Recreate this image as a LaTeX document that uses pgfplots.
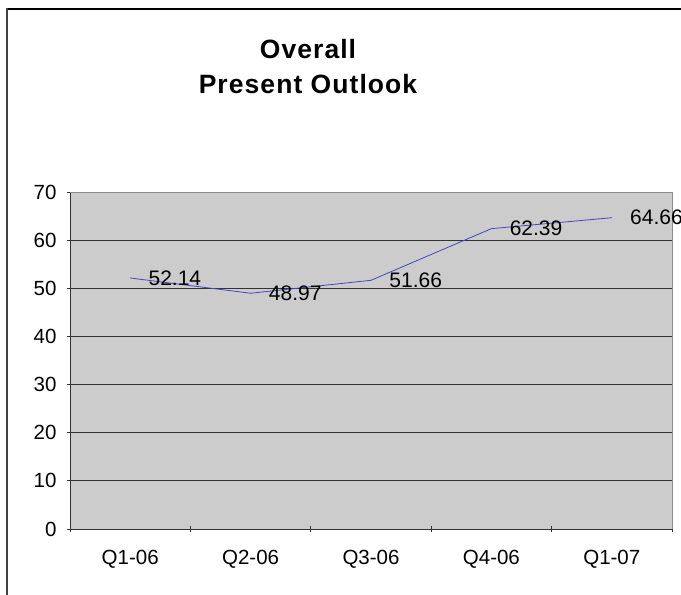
\documentclass[border=0pt]{standalone}
\usepackage{pgfplots}
\pgfplotsset{compat=1.18}
\usepackage{fontspec}
\setmainfont{Liberation Sans}
\definecolor{plotgray}{RGB}{204,204,204}
\definecolor{lineblue}{RGB}{70,70,190}
\begin{document}
\begin{tikzpicture}[x=1pt,y=1pt]
\path[use as bounding box] (0,0) rectangle (681,595);
\draw[black, line width=1.6pt] (7,586) -- (681,586);
\draw[black!75, line width=2pt] (7,0) -- (7,586.8);
\node[anchor=base, font=\bfseries\fontsize{26.5}{30}\selectfont, inner sep=0pt] at (308,536) {\addfontfeature{LetterSpace=4}Overall};
\node[anchor=base, font=\bfseries\fontsize{26.5}{30}\selectfont, inner sep=0pt] at (308,501) {\addfontfeature{LetterSpace=4}Present Outlook};
\begin{axis}[
  at={(70pt,66pt)}, anchor=south west,
  scale only axis, width=602pt, height=337pt,
  xmin=-0.5, xmax=4.5, ymin=0, ymax=70,
  ytick={0,10,...,70},
  xtick={0,1,2,3,4},
  xticklabels={Q1-06,Q2-06,Q3-06,Q4-06,Q1-07},
  minor xtick={-0.5,0.5,1.5,2.5,3.5,4.5},
  major x tick style={draw=none},
  minor x tick style={black!80, line width=0.8pt},
  y tick style={black!80, line width=0.8pt},
  tick align=outside,
  tick pos=left,
  major tick length=6pt,
  minor tick length=6pt,
  axis lines=left,
  axis line style={-, black!80, line width=0.9pt},
  axis background/.style={fill=plotgray},
  ymajorgrids,
  major grid style={black!80, line width=0.8pt},
  /pgf/number format/assume math mode=true,
  ticklabel style={font=\fontsize{20.5}{24}\selectfont},
  yticklabel style={xshift=-7pt},
  xticklabel style={yshift=-15pt},
  clip=false,
  nodes near coords,
  point meta=explicit symbolic,
  every node near coord/.append style={anchor=west, xshift=16pt, inner sep=2pt, font=\fontsize{21}{24}\selectfont, black},
]
\draw[black!45, line width=1pt] (rel axis cs:0,1) -- (rel axis cs:1,1) -- (rel axis cs:1,0);
\addplot[lineblue, line width=0.8pt, mark=none] table[meta=lab] {
x y lab
0 52.14 52.14
1 48.97 48.97
2 51.66 51.66
3 62.39 62.39
4 64.66 64.66
};
\end{axis}
\end{tikzpicture}
\end{document}
